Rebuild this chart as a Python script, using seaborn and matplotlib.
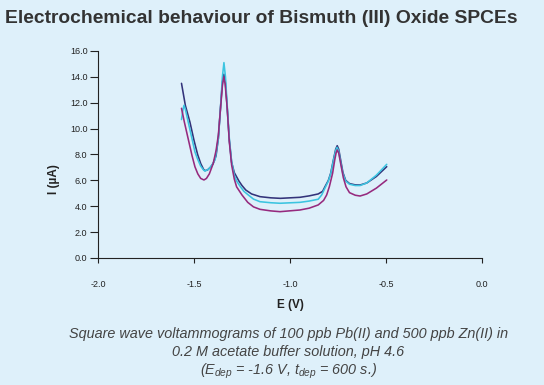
import pandas as pd
import seaborn as sns
from matplotlib import pyplot as plt

# values (E in V, I in uA)
e_navy = [-1.565, -1.545, -1.521, -1.50, -1.481, -1.465, -1.45, -1.443, -1.43, -1.415, -1.40, -1.385,
          -1.373, -1.361, -1.352, -1.344, -1.336, -1.327, -1.316, -1.304, -1.29, -1.266, -1.25, -1.23,
          -1.20, -1.156, -1.10, -1.05, -0.948, -0.90, -0.853, -0.83, -0.818, -0.80, -0.788, -0.774,
          -0.762, -0.754, -0.746, -0.736, -0.724, -0.71, -0.69, -0.66, -0.635, -0.60, -0.55, -0.496]
i_navy = [13.5, 11.8, 10.5, 9.1, 8.0, 7.3, 6.85, 6.75, 6.8, 7.0, 7.3, 7.9,
          9.25, 11.8, 13.6, 14.2, 13.5, 11.6, 9.1, 7.4, 6.6, 5.95, 5.6, 5.25,
          4.95, 4.74, 4.65, 4.61, 4.69, 4.8, 4.95, 5.15, 5.5, 6.0, 6.55, 7.57,
          8.4, 8.68, 8.4, 7.57, 6.6, 6.0, 5.75, 5.65, 5.64, 5.8, 6.3, 7.06]

e_cyan = [-1.565, -1.557, -1.552, -1.545, -1.53, -1.51, -1.495, -1.48, -1.465, -1.45, -1.443, -1.425,
          -1.41, -1.39, -1.373, -1.361, -1.352, -1.344, -1.336, -1.327, -1.316, -1.304, -1.29, -1.278,
          -1.26, -1.24, -1.217, -1.19, -1.156, -1.10, -1.052, -0.948, -0.90, -0.853, -0.835, -0.818,
          -0.80, -0.788, -0.774, -0.762, -0.755, -0.747, -0.737, -0.725, -0.71, -0.69, -0.66, -0.635,
          -0.60, -0.55, -0.496]
i_cyan = [10.7, 11.5, 11.8, 11.5, 10.5, 9.2, 8.2, 7.6, 7.1, 6.8, 6.72, 6.85,
          7.1, 7.6, 9.25, 11.8, 14.0, 15.1, 14.0, 11.8, 9.25, 7.44, 6.4, 5.95,
          5.55, 5.15, 4.87, 4.55, 4.35, 4.27, 4.23, 4.3, 4.4, 4.54, 4.87, 5.4,
          5.95, 6.5, 7.5, 8.3, 8.55, 8.3, 7.5, 6.55, 5.95, 5.7, 5.6, 5.6,
          5.8, 6.4, 7.24]

e_mag = [-1.565, -1.55, -1.53, -1.51, -1.495, -1.48, -1.465, -1.448, -1.435, -1.42, -1.40, -1.385,
         -1.373, -1.361, -1.352, -1.345, -1.338, -1.327, -1.316, -1.304, -1.29, -1.278, -1.25, -1.22,
         -1.19, -1.156, -1.10, -1.052, -0.948, -0.90, -0.853, -0.825, -0.809, -0.795, -0.778, -0.767,
         -0.760, -0.754, -0.746, -0.736, -0.722, -0.708, -0.69, -0.66, -0.635, -0.60, -0.55, -0.496]
i_mag = [11.57, 10.5, 9.2, 7.9, 7.05, 6.5, 6.15, 6.03, 6.15, 6.5, 7.3, 8.3,
         9.5, 11.7, 13.3, 14.0, 13.5, 11.6, 9.0, 7.2, 6.1, 5.5, 4.87, 4.3,
         3.95, 3.76, 3.64, 3.58, 3.71, 3.85, 4.1, 4.45, 4.87, 5.51, 6.55, 7.57,
         8.1, 8.35, 8.1, 7.3, 6.2, 5.5, 5.05, 4.85, 4.79, 4.95, 5.4, 6.03]

x_ticks = [-2.0, -1.5, -1.0, -0.5, 0.0]
y_ticks = [0, 2, 4, 6, 8, 10, 12, 14, 16]

df = pd.concat([
    pd.DataFrame({'E': e_navy, 'I': i_navy, 'run': 'a'}),
    pd.DataFrame({'E': e_cyan, 'I': i_cyan, 'run': 'b'}),
    pd.DataFrame({'E': e_mag, 'I': i_mag, 'run': 'c'}),
])

sns.set_style('ticks')
plt.rcParams['font.family'] = ['Liberation Sans', 'DejaVu Sans']
plt.rcParams['mathtext.fontset'] = 'custom'
plt.rcParams['mathtext.it'] = 'Liberation Sans:italic'
plt.rcParams['mathtext.rm'] = 'Liberation Sans:italic'

fig = plt.figure(figsize=(5.44, 3.85), dpi=100, facecolor='#def0fa')
ax = fig.add_axes([0.1801, 0.3299, 0.7059, 0.5377])
ax.set_facecolor('none')

pal = {'a': '#33337a', 'b': '#3cc4e0', 'c': '#962a7e'}
sns.lineplot(data=df, x='E', y='I', hue='run', palette=pal, estimator=None,
             sort=False, linewidth=1.15, legend=False, ax=ax)

ax.set_xlim(-2, 0)
ax.set_ylim(0, 16)
ax.set_xticks(x_ticks)
ax.set_xticklabels([f'{v:.1f}' for v in x_ticks])
ax.set_yticks(y_ticks)
ax.set_yticklabels([f'{v:.1f}' for v in y_ticks])
ax.tick_params(axis='x', length=3.5, width=0.8, pad=12, labelsize=6.5, colors='#222222')
ax.tick_params(axis='y', length=5.5, width=0.8, pad=2, labelsize=6.5, colors='#222222')
sns.despine(ax=ax)
for s in ['left', 'bottom']:
    ax.spines[s].set_linewidth(0.8)
    ax.spines[s].set_color('#222222')

ax.set_xlabel('E (V)', fontsize=8.5, fontweight='bold', color='#222222')
ax.xaxis.set_label_coords(0.5, -0.20)
ax.set_ylabel('I (\u00b5A)', fontsize=8.5, fontweight='bold', color='#222222')
ax.yaxis.set_label_coords(-0.099, 0.38)

fig.text(0.009, 0.953, 'Electrochemical behaviour of Bismuth (III) Oxide SPCEs',
         ha='left', va='center', fontsize=13.9, fontweight='bold', color='#333333')

cap = dict(ha='center', va='center', fontsize=10.4, style='italic', color='#444444')
fig.text(0.530, 1 - 334 / 385, 'Square wave voltammograms of 100 ppb Pb(II) and 500 ppb Zn(II) in', **cap)
fig.text(0.530, 1 - 352 / 385, '0.2 M acetate buffer solution, pH 4.6', **cap)
fig.text(0.530, 1 - 371 / 385, r'($E_{dep}$ = -1.6 V, $t_{dep}$ = 600 s.)', **cap)

fig.savefig('out.png', dpi=100, facecolor=fig.get_facecolor())
